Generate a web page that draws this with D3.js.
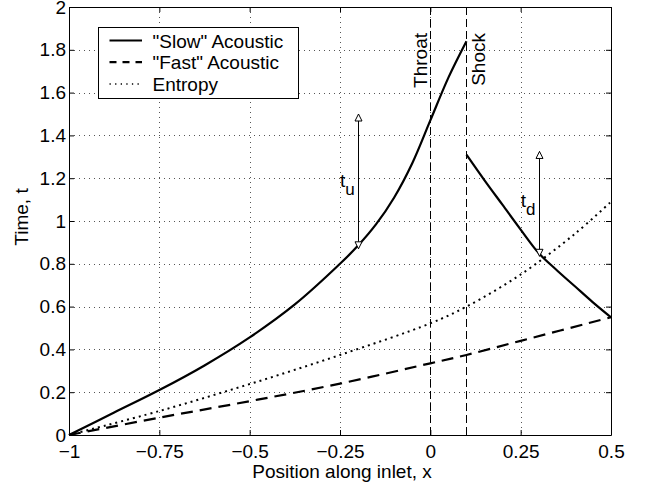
<!DOCTYPE html>
<html>
<head>
<meta charset="utf-8">
<script src="https://cdn.jsdelivr.net/npm/d3@7"></script>
<style>
  body { margin: 0; background: #fff; }
  svg text { font-family: "Liberation Sans", Arial, Helvetica, sans-serif; fill: #000; }
</style>
</head>
<body>
<div id="chart"></div>
<script>
// values
const slowUpX = [-1, -0.875, -0.75, -0.625, -0.5, -0.375, -0.25, -0.2, -0.15, -0.1, -0.05, 0, 0.05, 0.1];
const slowUpT = [0, 0.105, 0.21, 0.325, 0.456, 0.61, 0.80, 0.885, 0.985, 1.11, 1.27, 1.47, 1.67, 1.84];
const slowDownX = [0.1, 0.15, 0.2, 0.25, 0.3, 0.35, 0.4, 0.45, 0.5];
const slowDownT = [1.31, 1.19, 1.075, 0.96, 0.85, 0.77, 0.695, 0.62, 0.55];
const fastX = [-1, -0.75, -0.5, -0.25, 0, 0.1, 0.25, 0.5];
const fastT = [0, 0.081, 0.158, 0.24, 0.335, 0.374, 0.44, 0.55];
const entropyX = [-1, -0.75, -0.5, -0.25, 0, 0.1, 0.25, 0.4, 0.5];
const entropyT = [0, 0.112, 0.238, 0.374, 0.522, 0.6, 0.75, 0.94, 1.09];

const xTicks = [-1, -0.75, -0.5, -0.25, 0, 0.25, 0.5];
const xTickLabels = ['\u22121', '\u22120.75', '\u22120.5', '\u22120.25', '0', '0.25', '0.5'];
const yTicks = [0, 0.2, 0.4, 0.6, 0.8, 1, 1.2, 1.4, 1.6, 1.8, 2];
const yTickLabels = ['0', '0.2', '0.4', '0.6', '0.8', '1', '1.2', '1.4', '1.6', '1.8', '2'];

const markers = [{x: 0, label: 'Throat'}, {x: 0.1, label: 'Shock'}];
const arrows = [
  {x: -0.2, from: 0.87, to: 1.5, sub: 'u', labelT: 1.16},
  {x: 0.3, from: 0.835, to: 1.325, sub: 'd', labelT: 1.065}
];
const legendLabels = ['"Slow" Acoustic', '"Fast" Acoustic', 'Entropy'];

const W = 651, H = 486;
const margin = {top: 7, right: 40, bottom: 51, left: 69};
const font = 19;

const svg = d3.select('#chart').append('svg')
    .attr('width', W)
    .attr('height', H);

const x = d3.scaleLinear().domain([-1, 0.5]).range([margin.left, W - margin.right]);
const y = d3.scaleLinear().domain([0, 2]).range([H - margin.bottom, margin.top]);

// grid
const grid = svg.append('g')
    .attr('stroke', '#555')
    .attr('stroke-width', 1)
    .attr('stroke-dasharray', '1 4');

grid.selectAll('line.gx')
    .data(xTicks.slice(1, -1))
  .enter().append('line')
    .attr('x1', d => Math.round(x(d)) + 0.5).attr('x2', d => Math.round(x(d)) + 0.5)
    .attr('y1', y(2)).attr('y2', y(0));

grid.selectAll('line.gy')
    .data(yTicks.slice(1, -1))
  .enter().append('line')
    .attr('y1', d => Math.round(y(d)) + 0.5).attr('y2', d => Math.round(y(d)) + 0.5)
    .attr('x1', x(-1)).attr('x2', x(0.5));

// throat / shock
svg.append('g').selectAll('line')
    .data(markers)
  .enter().append('line')
    .attr('x1', d => Math.round(x(d.x)) + 0.5).attr('x2', d => Math.round(x(d.x)) + 0.5)
    .attr('y1', y(2)).attr('y2', y(0))
    .attr('stroke', '#000')
    .attr('stroke-width', 1)
    .attr('stroke-dasharray', '8 4');

svg.append('g').selectAll('text')
    .data(markers)
  .enter().append('text')
    .attr('transform', (d, i) => `translate(${i === 0 ? x(d.x) - 3 : x(d.x) + 19},${y(2) + 26}) rotate(-90)`)
    .attr('text-anchor', 'end')
    .style('font-size', font + 'px')
    .text(d => d.label);

// curves
const line = d3.line()
    .x(d => x(d[0]))
    .y(d => y(d[1]))
    .curve(d3.curveCatmullRom.alpha(0.5));

const zip = (a, b) => a.map((v, i) => [v, b[i]]);

const series = [
  {pts: zip(fastX, fastT), dash: '12 7', width: 2.2},
  {pts: zip(entropyX, entropyT), dash: '2 4', width: 2},
  {pts: zip(slowUpX, slowUpT), dash: null, width: 2.2},
  {pts: zip(slowDownX, slowDownT), dash: null, width: 2.2}
];

svg.append('g').selectAll('path')
    .data(series)
  .enter().append('path')
    .attr('d', d => line(d.pts))
    .attr('fill', 'none')
    .attr('stroke', '#000')
    .attr('stroke-width', d => d.width)
    .attr('stroke-dasharray', d => d.dash);

// arrows
const arrowG = svg.append('g').selectAll('g')
    .data(arrows)
  .enter().append('g');

arrowG.append('line')
    .attr('x1', d => Math.round(x(d.x)) + 0.5).attr('x2', d => Math.round(x(d.x)) + 0.5)
    .attr('y1', d => y(d.from)).attr('y2', d => y(d.to))
    .attr('stroke', '#000')
    .attr('stroke-width', 1);

const head = (cx, cy, dir) => `M${cx},${cy}L${cx - 3.5},${cy - dir * 7}L${cx + 3.5},${cy - dir * 7}Z`;

arrowG.append('path')
    .attr('d', d => head(Math.round(x(d.x)) + 0.5, y(d.to), -1))
    .attr('fill', '#fff').attr('stroke', '#000').attr('stroke-width', 1);
arrowG.append('path')
    .attr('d', d => head(Math.round(x(d.x)) + 0.5, y(d.from), 1))
    .attr('fill', '#fff').attr('stroke', '#000').attr('stroke-width', 1);

const lab = arrowG.append('text')
    .attr('x', d => x(d.x) - 18)
    .attr('y', d => y(d.labelT))
    .style('font-size', font + 'px');
lab.append('tspan').text('t');
lab.append('tspan')
    .attr('dy', 8)
    .style('font-size', '17px')
    .text(d => d.sub);

// axes, ticks inside
svg.append('g')
    .attr('transform', `translate(0,${y(0)})`)
    .call(d3.axisBottom(x).tickValues(xTicks).tickFormat((d, i) => xTickLabels[i]).tickSizeInner(-5).tickSizeOuter(0).tickPadding(10))
    .call(g => g.selectAll('text').style('font-size', font + 'px'));

svg.append('g')
    .attr('transform', `translate(${x(-1)},0)`)
    .call(d3.axisLeft(y).tickValues(yTicks).tickFormat((d, i) => yTickLabels[i]).tickSizeInner(-5).tickSizeOuter(0).tickPadding(3))
    .call(g => g.selectAll('text').style('font-size', font + 'px'));

svg.append('g')
    .attr('transform', `translate(0,${y(2)})`)
    .call(d3.axisTop(x).tickValues(xTicks).tickFormat('').tickSizeInner(-5).tickSizeOuter(0));

svg.append('g')
    .attr('transform', `translate(${x(0.5)},0)`)
    .call(d3.axisRight(y).tickValues(yTicks).tickFormat('').tickSizeInner(-5).tickSizeOuter(0));

// axis titles
svg.append('text')
    .attr('x', (x(-1) + x(0.5)) / 2 + 2)
    .attr('y', H - 8)
    .attr('text-anchor', 'middle')
    .style('font-size', font + 'px')
    .text('Position along inlet, x');

svg.append('text')
    .attr('transform', `translate(28,${(y(0) + y(2)) / 2 - 4}) rotate(-90)`)
    .attr('text-anchor', 'middle')
    .style('font-size', font + 'px')
    .text('Time, t');

// legend
const legend = svg.append('g').attr('transform', 'translate(98.5,27.5)');
legend.append('rect')
    .attr('width', 200).attr('height', 71)
    .attr('fill', '#fff').attr('stroke', '#000').attr('stroke-width', 1);

const legendStyles = [
  {dash: null, width: 2.2},
  {dash: '7 6', width: 2.2},
  {dash: '1.3 4.3', width: 1.5}
];

const item = legend.selectAll('g.item')
    .data(legendLabels)
  .enter().append('g')
    .attr('transform', (d, i) => `translate(0,${13 + i * 21.7})`);

item.append('line')
    .attr('x1', 11).attr('x2', 43.5)
    .attr('stroke', '#000')
    .attr('stroke-width', (d, i) => legendStyles[i].width)
    .attr('stroke-dasharray', (d, i) => legendStyles[i].dash);

item.append('text')
    .attr('x', 54)
    .attr('y', 7)
    .style('font-size', font + 'px')
    .text(d => d);
</script>
</body>
</html>
